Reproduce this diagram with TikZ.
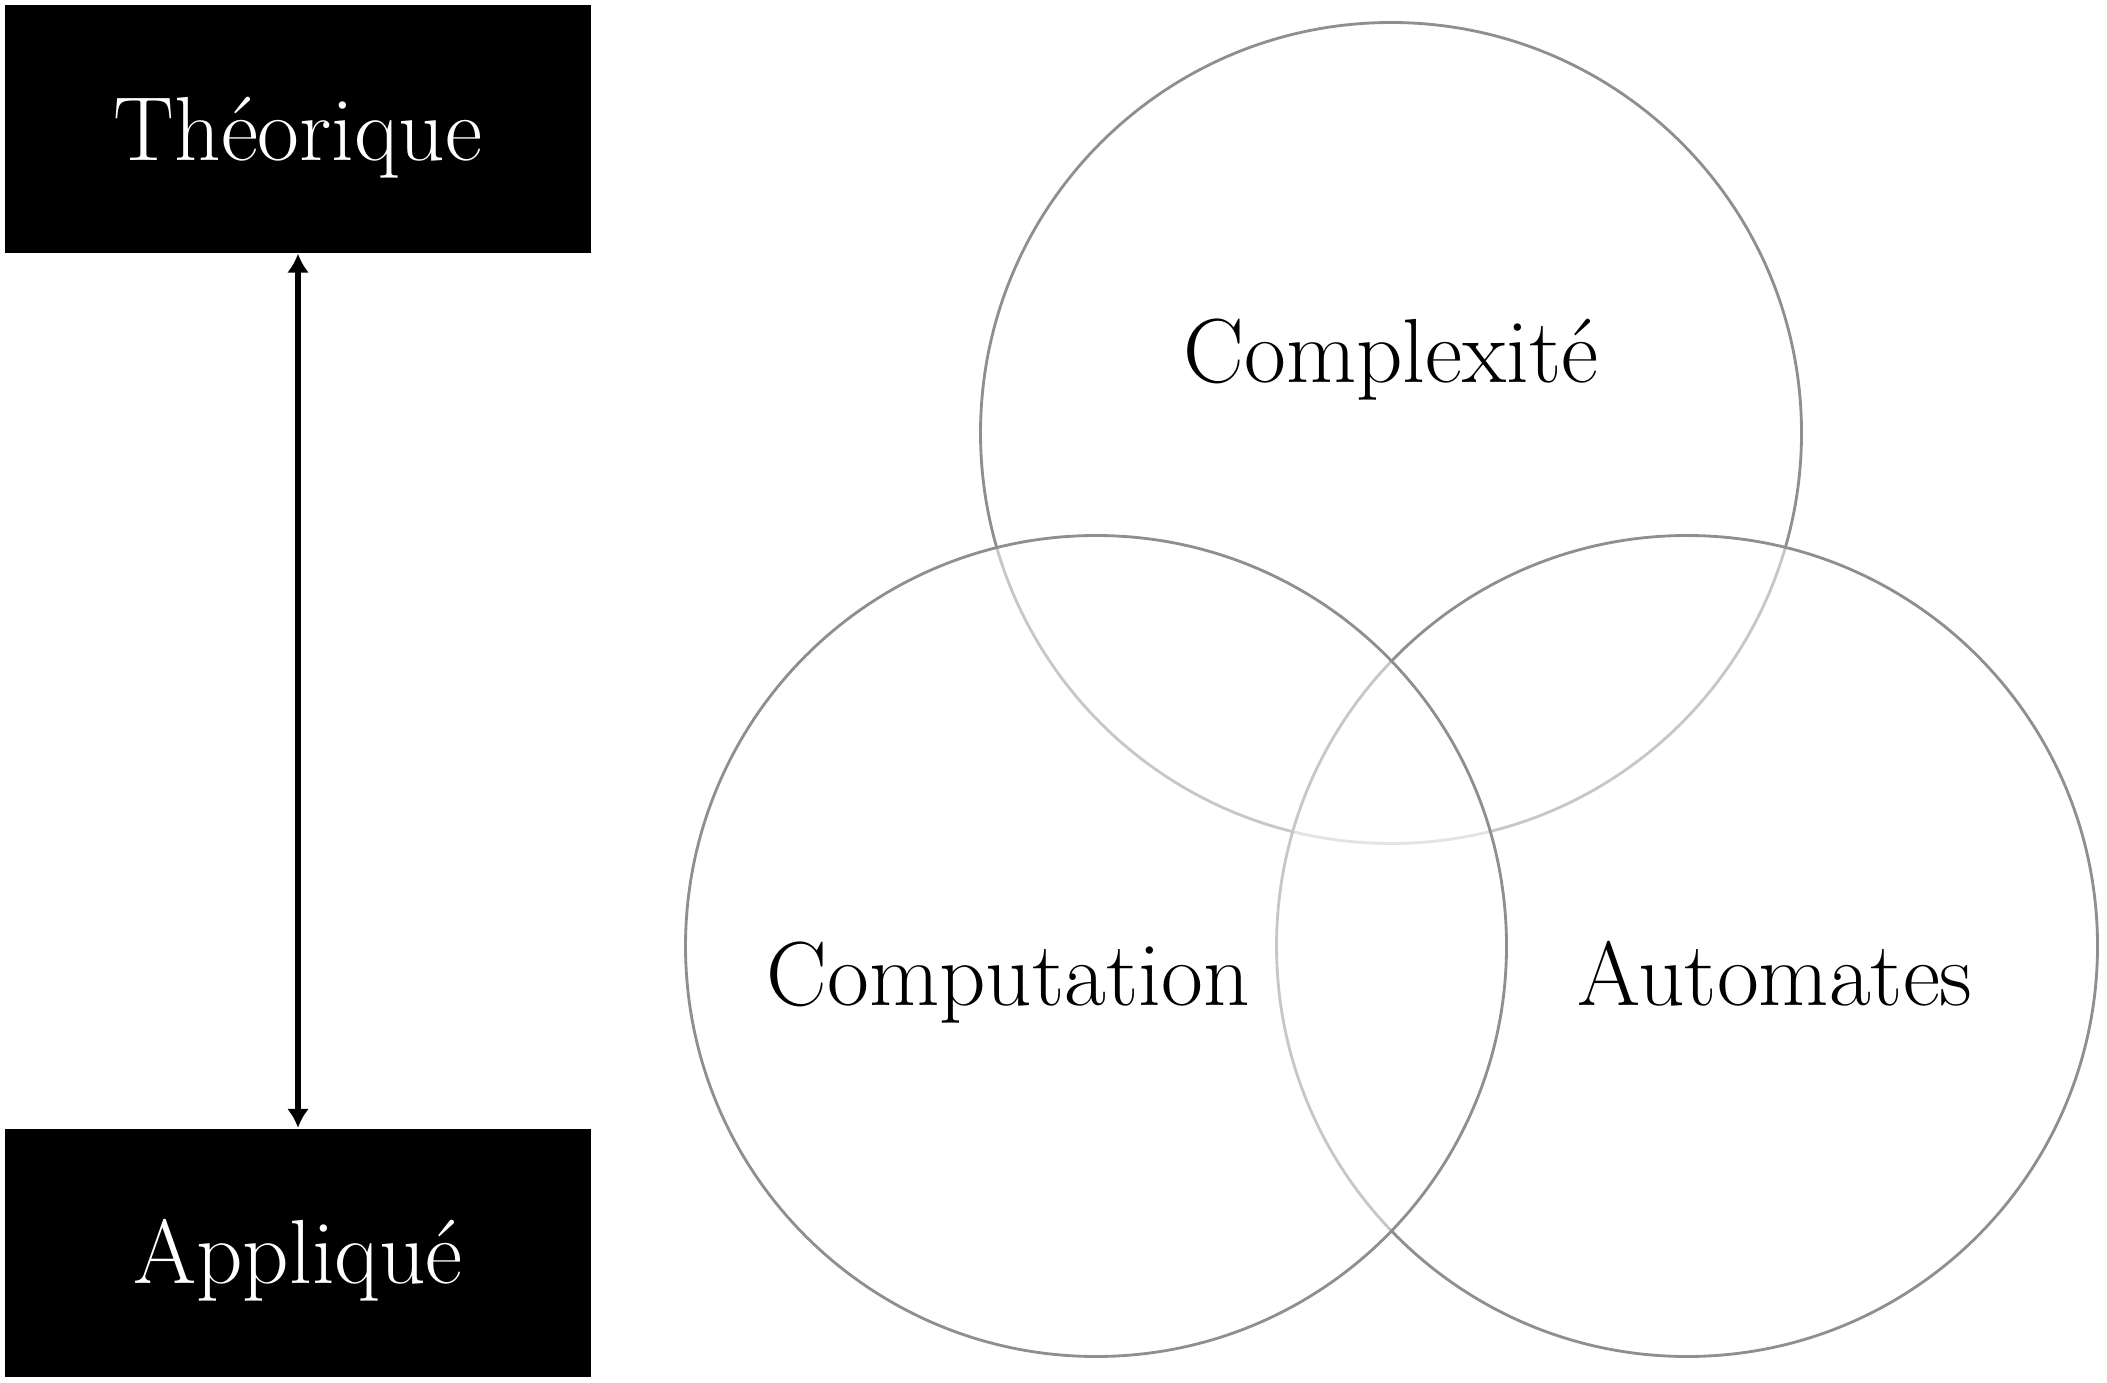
\documentclass[tikz,border=0pt]{standalone}
\usetikzlibrary{arrows.meta}
\definecolor{ring}{gray}{0.56}
\tikzset{
  px/.style={x=0.3pt,y=-0.3pt},
  blackbox/.style={fill=black,text=white,minimum width=175.8pt,minimum height=74.4pt,inner sep=0pt},
  circ/.style={circle,draw=ring,line width=0.85pt,fill=white,fill opacity=0.5,minimum size=246.3pt,inner sep=0pt},
  lbl/.style={anchor=base,text=black,font=\fontsize{27.3}{32}\selectfont},
  link/.style={line width=1.9pt,{Latex[length=5.7pt,width=6.6pt]}-{Latex[length=5.7pt,width=6.6pt]}}
}
\begin{document}
\begin{tikzpicture}[px]
\useasboundingbox (0,0) rectangle (2107,1383);
\node[blackbox] (theo) at (298,129) {};
\node[lbl,text=white] (theot) at (298,161) {Th\'eorique};
\node[blackbox] (appl) at (298,1252.5) {};
\node[lbl,text=white] (applt) at (298,1283) {Appliqu\'e};
\draw[link] (theo.south) -- (appl.north);
\node[circ] (cplx) at (1391,433) {};
\node[circ] (auto) at (1687,946) {};
\node[circ] (comp) at (1096,946) {};
\node[lbl] (cplxt) at (1391,383) {Complexit\'e};
\node[lbl] (compt) at (1008,1005) {Computation};
\node[lbl] (autot) at (1775,1005) {Automates};
\end{tikzpicture}
\end{document}
